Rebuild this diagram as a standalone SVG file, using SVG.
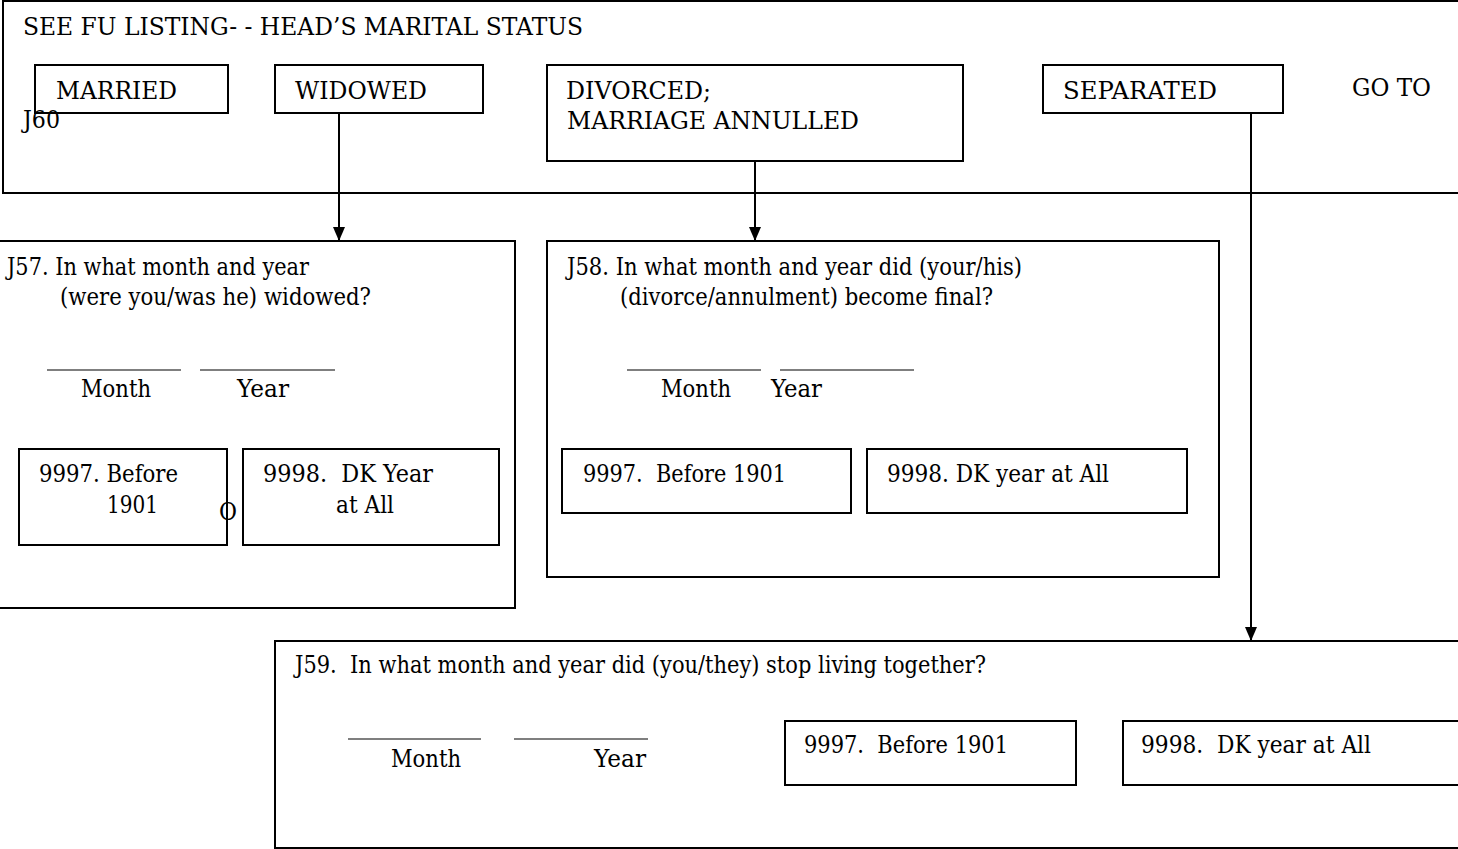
<svg xmlns="http://www.w3.org/2000/svg" width="1458" height="849" viewBox="0 0 1458 849">
<style>
text{font-family:"DejaVu Serif","Liberation Serif",serif;font-size:24px;fill:#000;white-space:pre}
.b{fill:none;stroke:#000;stroke-width:2}
.c{stroke:#000;stroke-width:2;fill:none}
.u{stroke:#000;stroke-width:1.2}
</style>
<defs>
<marker id="arr" markerUnits="userSpaceOnUse" markerWidth="14" markerHeight="12" refX="14" refY="6" orient="auto">
<path d="M0,0 L14,6 L0,12 z" fill="#000"/>
</marker>
</defs>
<rect width="1458" height="849" fill="#fff"/>
<g id="header">
<rect class="b" x="3" y="1" width="1470" height="192"/>
<text x="23" y="35" textLength="560" lengthAdjust="spacingAndGlyphs">SEE FU LISTING- - HEAD’S MARITAL STATUS</text>
<text x="23" y="128" textLength="37" lengthAdjust="spacingAndGlyphs">J60</text>
<text x="1352" y="96" textLength="79" lengthAdjust="spacingAndGlyphs">GO TO</text>
</g>
<g id="married">
<rect class="b" x="35" y="65" width="193" height="48"/>
<text x="56" y="99" textLength="121" lengthAdjust="spacingAndGlyphs">MARRIED</text>
</g>
<g id="widowed">
<rect class="b" x="275" y="65" width="208" height="48"/>
<text x="295" y="99" textLength="132" lengthAdjust="spacingAndGlyphs">WIDOWED</text>
</g>
<g id="divorced">
<rect class="b" x="547" y="65" width="416" height="96"/>
<text x="566" y="99" textLength="145" lengthAdjust="spacingAndGlyphs">DIVORCED;</text>
<text x="567" y="129" textLength="292" lengthAdjust="spacingAndGlyphs">MARRIAGE ANNULLED</text>
</g>
<g id="separated">
<rect class="b" x="1043" y="65" width="240" height="48"/>
<text x="1063" y="99" textLength="154" lengthAdjust="spacingAndGlyphs">SEPARATED</text>
</g>
<g id="connectors">
<line class="c" x1="339" y1="113" x2="339" y2="241" marker-end="url(#arr)"/>
<line class="c" x1="755" y1="161" x2="755" y2="241" marker-end="url(#arr)"/>
<line class="c" x1="1251" y1="113" x2="1251" y2="641" marker-end="url(#arr)"/>
</g>
<g id="j57">
<rect class="b" x="-10" y="241" width="525" height="367"/>
<text x="7" y="275" textLength="302" lengthAdjust="spacingAndGlyphs">J57. In what month and year</text>
<text x="60" y="305" textLength="311" lengthAdjust="spacingAndGlyphs">(were you/was he) widowed?</text>
<line class="u" x1="47" y1="370" x2="181" y2="370"/>
<line class="u" x1="200" y1="370" x2="335" y2="370"/>
<text x="81" y="397" textLength="70" lengthAdjust="spacingAndGlyphs">Month</text>
<text x="237" y="397" textLength="52" lengthAdjust="spacingAndGlyphs">Year</text>
<rect class="b" x="19" y="449" width="208" height="96"/>
<text x="39" y="482" textLength="139" lengthAdjust="spacingAndGlyphs">9997. Before</text>
<text x="107" y="513" textLength="51" lengthAdjust="spacingAndGlyphs">1901</text>
<text x="219" y="520" textLength="18" lengthAdjust="spacingAndGlyphs">O</text>
<rect class="b" x="243" y="449" width="256" height="96"/>
<text x="263" y="482" textLength="170" lengthAdjust="spacingAndGlyphs">9998.  DK Year</text>
<text x="336" y="513" textLength="58" lengthAdjust="spacingAndGlyphs">at All</text>
</g>
<g id="j58">
<rect class="b" x="547" y="241" width="672" height="336"/>
<text x="567" y="275" textLength="455" lengthAdjust="spacingAndGlyphs">J58. In what month and year did (your/his)</text>
<text x="620" y="305" textLength="373" lengthAdjust="spacingAndGlyphs">(divorce/annulment) become final?</text>
<line class="u" x1="627" y1="370" x2="761" y2="370"/>
<line class="u" x1="780" y1="370" x2="914" y2="370"/>
<text x="661" y="397" textLength="70" lengthAdjust="spacingAndGlyphs">Month</text>
<text x="771" y="397" textLength="51" lengthAdjust="spacingAndGlyphs">Year</text>
<rect class="b" x="562" y="449" width="289" height="64"/>
<text x="583" y="482" textLength="203" lengthAdjust="spacingAndGlyphs">9997.  Before 1901</text>
<rect class="b" x="867" y="449" width="320" height="64"/>
<text x="887" y="482" textLength="222" lengthAdjust="spacingAndGlyphs">9998. DK year at All</text>
</g>
<g id="j59">
<rect class="b" x="275" y="641" width="1200" height="207"/>
<text x="295" y="673" textLength="691" lengthAdjust="spacingAndGlyphs">J59.  In what month and year did (you/they) stop living together?</text>
<line class="u" x1="348" y1="739" x2="481" y2="739"/>
<line class="u" x1="514" y1="739" x2="648" y2="739"/>
<text x="391" y="767" textLength="70" lengthAdjust="spacingAndGlyphs">Month</text>
<text x="594" y="767" textLength="52" lengthAdjust="spacingAndGlyphs">Year</text>
<rect class="b" x="785" y="721" width="291" height="64"/>
<text x="804" y="753" textLength="204" lengthAdjust="spacingAndGlyphs">9997.  Before 1901</text>
<rect class="b" x="1123" y="721" width="400" height="64"/>
<text x="1141" y="753" textLength="230" lengthAdjust="spacingAndGlyphs">9998.  DK year at All</text>
</g>
</svg>
